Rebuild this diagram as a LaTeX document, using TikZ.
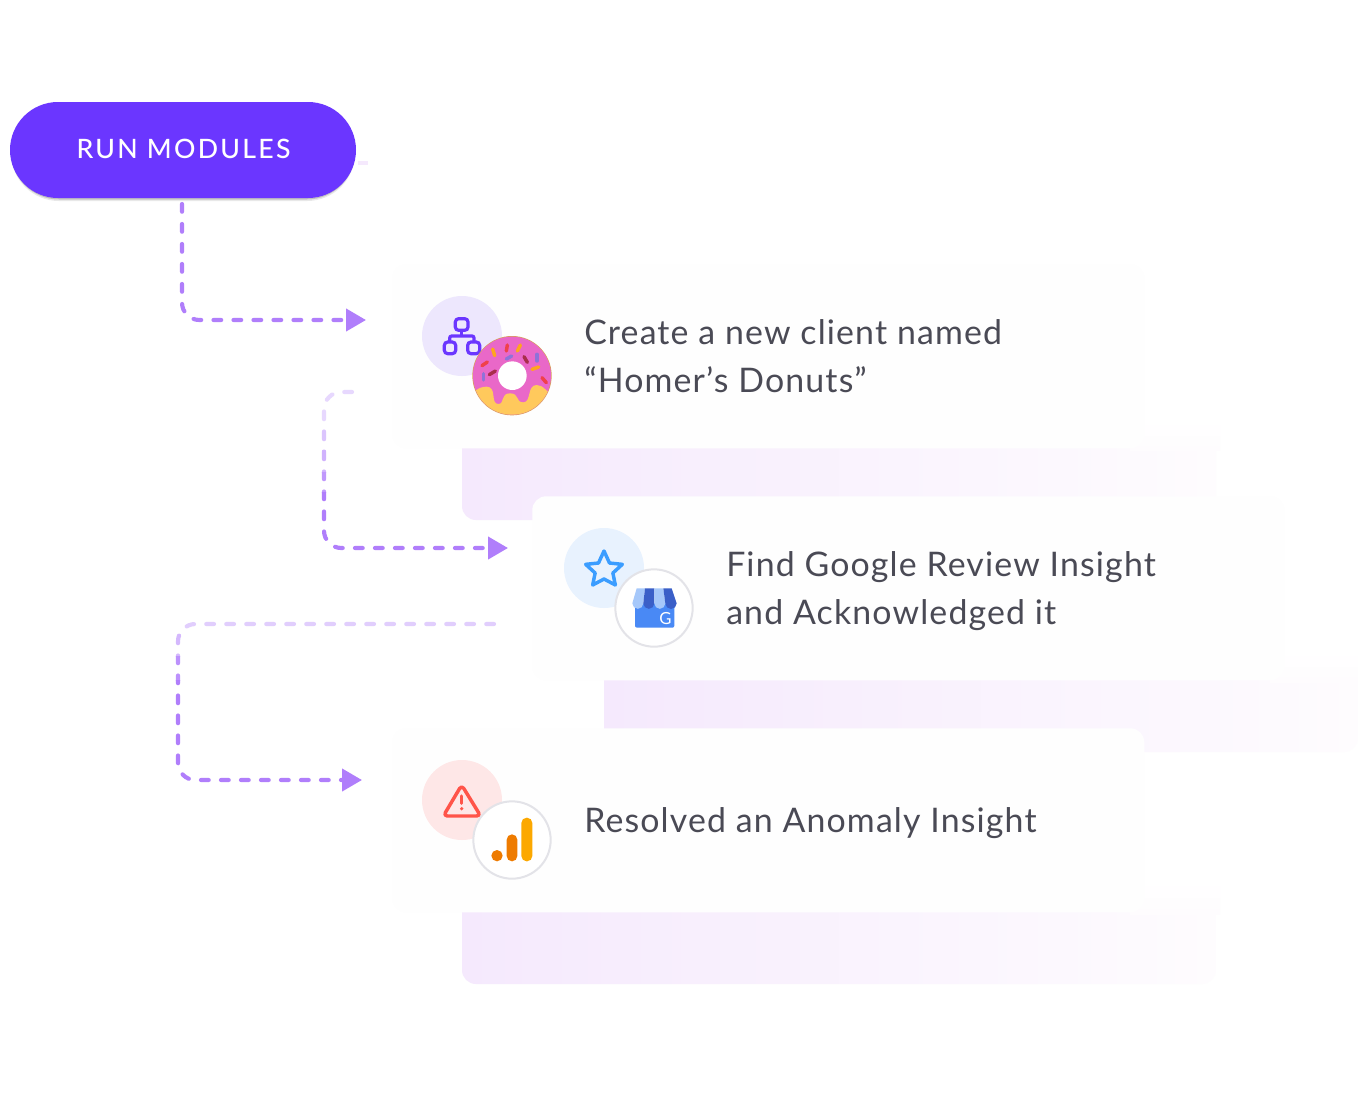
\documentclass[tikz,border=0pt]{standalone}
\usepackage{fontspec}
\setmainfont{Lato}
\newfontfamily\btnfont[LetterSpace=8.6]{Lato Medium}
\newfontfamily\cardfont[LetterSpace=3.4]{Lato}
\usetikzlibrary{arrows.meta}
\definecolor{btn}{HTML}{6B36FF}
\definecolor{flow}{HTML}{B07EFB}
\definecolor{ink}{HTML}{4A4A55}
\definecolor{panL}{HTML}{F5E9FD}
\definecolor{panM}{HTML}{F7EEFD}
\definecolor{panR}{HTML}{FEFCFE}
\definecolor{cardc}{HTML}{FEFEFE}
\definecolor{ringc}{HTML}{E3E3E8}
\definecolor{discA}{HTML}{EDE7FD}
\definecolor{discB}{HTML}{E8F2FE}
\definecolor{discC}{HTML}{FEE7E7}
\definecolor{donutP}{HTML}{E968C8}
\definecolor{donutY}{HTML}{FFC95C}
\definecolor{donutE}{HTML}{D8A05A}
\definecolor{sprO}{HTML}{FFA51F}
\definecolor{sprR}{HTML}{F0414A}
\definecolor{sprD}{HTML}{A82E4C}
\definecolor{sprV}{HTML}{8F72D8}
\definecolor{starc}{HTML}{3B9DFF}
\definecolor{storeB}{HTML}{4989F5}
\definecolor{storeL}{HTML}{A6C8FA}
\definecolor{storeD}{HTML}{3A5FC8}
\definecolor{alertc}{HTML}{FF5449}
\definecolor{gaD}{HTML}{EE7B00}
\definecolor{gaL}{HTML}{FCA800}
\tikzset{
  x=0.75pt,y=-0.75pt,
  panel/.style={left color=panL,middle color=panM,right color=panR,rounded corners=10.5pt},
  panelfade/.style={top color=white,bottom color=panR},
  cardbox/.style={rectangle,fill=cardc,rounded corners=10.5pt,minimum width=564pt,minimum height=138pt,inner sep=0pt,anchor=north west},
  cardtext/.style={anchor=base west,inner sep=0pt,text=ink,font=\cardfont\fontsize{25.4pt}{30pt}\selectfont},
  btnbox/.style={rectangle,fill=btn,rounded corners=36pt,minimum width=259.5pt,minimum height=72pt,inner sep=0pt},
  flowline/.style={line width=3.1pt,line cap=round,dash pattern=on 5.8pt off 9.2pt,rounded corners=13pt,-{Triangle[length=15pt,width=16.5pt]}},
  zoomed/.style={x=0.25pt,y=-0.25pt},
  disc/.style={circle,minimum size=60pt,inner sep=0pt},
  ringdisc/.style={circle,fill=white,draw=ringc,line width=1.5pt,minimum size=58pt,inner sep=0pt},
  sprinkle/.style={line width=2.6pt,line cap=round},
}
\begin{document}
\begin{tikzpicture}
\useasboundingbox (0,0) rectangle (1358,1096);
\fill[white] (0,0) rectangle (1358,1096);

% lavender panels behind the cards
\path[panel] (462,425) rectangle (1216,520);
\path[panel] (604,655) rectangle (1358,752);
\path[panel] (462,885) rectangle (1216,984);
% the parts beside the cards fade out upward
\path[panelfade] (1130,420) rectangle (1220,450);
\path[panelfade] (1270,650) rectangle (1358,682);
\path[panelfade] (1130,880) rectangle (1220,914);

% cards
\node[cardbox] (card1) at (392,264) {};
\node[cardbox] (card2) at (532,496) {};
\node[cardbox] (card3) at (392,728) {};

% button
\fill[black!35,rounded corners=36pt,opacity=.25] (11,106) rectangle (355,201);
\fill[black!35,rounded corners=36pt,opacity=.6] (11,104.5) rectangle (355,199.5);
\node[btnbox] (run) at (183,150) {};
\node[inner sep=0pt,text=white,font=\btnfont\fontsize{20pt}{24pt}\selectfont] (runlabel) at (183.5,149) {RUN MODULES};
\coordinate (faintA) at (358,163);
\coordinate (faintB) at (368,163);
\draw[panL,line width=2.5pt] (faintA) -- (faintB);

% connectors
\coordinate (s1) at (182,204);
\coordinate (e1) at (366,320);
\coordinate (s2) at (352,392);
\coordinate (e2) at (508,548);
\coordinate (s3) at (494,624);
\coordinate (e3) at (362,780);
\draw[flowline,draw=flow] (s1) |- (e1);
\foreach \ya/\yb/\p in {380/428/30,428/450/45,450/472/60,472/492/80,492/570/100}{
  \begin{scope}
    \clip (300,\ya) rectangle (530,\yb);
    \draw[flowline,draw=flow!\p] (s2) -| (324,548) -- (e2);
  \end{scope}}
\foreach \ya/\yb/\p in {610/634/38,634/656/55,656/680/85,680/800/100}{
  \begin{scope}
    \clip (160,\ya) rectangle (510,\yb);
    \draw[flowline,draw=flow!\p] (s3) -| (178,780) -- (e3);
  \end{scope}}

% card texts
\node[cardtext] (t1a) at (584,344) {Create a new client named};
\node[cardtext] (t1b) at (584,392) {“Homer’s Donuts”};
\node[cardtext] (t2a) at (726,576) {Find Google Review Insight};
\node[cardtext] (t2b) at (726,624) {and Acknowledged it};
\node[cardtext] (t3a) at (584,832) {Resolved an Anomaly Insight};

% icon discs
\node[disc,fill=discA] (d1) at (462,336) {};
\node[disc,fill=discB] (d2) at (604,568) {};
\node[disc,fill=discC] (d3) at (462,800) {};
\node[ringdisc] (r2) at (654,608) {};
\node[ringdisc] (r3) at (512,840) {};

% org-chart icon
\begin{scope}[shift={(410,285)},zoomed,draw=btn,line width=2.4pt,rounded corners=2.5pt]
  \draw (136,101) rectangle (174,136);
  \draw (103,171) rectangle (137,206);
  \draw (173,171) rectangle (209,206);
  \draw[rounded corners=1.5pt] (119,171) -- (119,153) -- (192,153) -- (192,171);
  \draw (155,136) -- (155,153);
\end{scope}

% donut
\begin{scope}[shift={(410,285)},zoomed]
  \fill[donutE] (306,272) circle[radius=119];
  \fill[donutP] (306,272) circle[radius=117];
  \begin{scope}
    \clip (306,272) circle[radius=117];
    \fill[donutY] (170,345) .. controls (190,320) and (205,305) .. (230,305)
      .. controls (262,305) and (240,357) .. (265,357)
      .. controls (285,357) and (270,325) .. (300,325)
      .. controls (330,325) and (315,352) .. (340,352)
      .. controls (365,352) and (350,300) .. (380,300)
      .. controls (400,300) and (410,320) .. (440,345)
      -- (440,400) -- (170,400) -- cycle;
  \end{scope}
  \fill[white] (307,272) circle[radius=43];
  \draw[sprinkle,sprO] (248,192) -- (254,212);
  \draw[sprinkle,sprR] (292,180) -- (289,198);
  \draw[sprinkle,sprO] (331,180) -- (322,198);
  \draw[sprinkle,sprV] (289,222) -- (305,213);
  \draw[sprinkle,sprD] (342,215) -- (352,232);
  \draw[sprinkle,sprV] (381,208) -- (381,228);
  \draw[sprinkle,sprR] (216,242) -- (232,231);
  \draw[sprinkle,sprD] (238,269) -- (256,258);
  \draw[sprinkle,sprV] (221,266) -- (221,285);
  \draw[sprinkle,sprO] (366,253) -- (386,246);
  \draw[sprinkle,sprR] (396,278) -- (409,293);
\end{scope}

% star
\begin{scope}[shift={(555,520)},zoomed]
  \draw[starc,line width=2.6pt,line join=round]
    (147,93) -- (163.5,129) -- (202,133) -- (173.6,159) -- (181,195) -- (147,177)
    -- (113,195) -- (120.4,159) -- (92,133) -- (130.5,129) -- cycle;
  % storefront
  \fill[storeB,rounded corners=1.5pt] (240,250) rectangle (358,323);
  \fill[storeL] (245,205) -- (270,205) -- (265,250) arc[start angle=0,end angle=180,radius=16.5] -- cycle;
  \fill[storeD] (270,205) -- (298,205) -- (298,250) arc[start angle=0,end angle=180,radius=16.5] -- cycle;
  \fill[storeL] (298,205) -- (325,205) -- (331,250) arc[start angle=0,end angle=180,radius=16.5] -- cycle;
  \fill[storeD] (325,205) -- (350,205) -- (365,250) arc[start angle=0,end angle=180,radius=17] -- cycle;
  \node[inner sep=0pt,text=white,font=\fontsize{12.5pt}{13pt}\selectfont] (storeG) at (331,297) {G};
\end{scope}

% alert triangle and bars
\begin{scope}[shift={(410,750)},zoomed]
  \draw[alertc,line width=2.6pt,rounded corners=3pt,line join=round] (155,105) -- (212,198) -- (100,198) -- cycle;
  \draw[alertc,line width=2.4pt,line cap=round] (155,138) -- (155,160);
  \fill[alertc] (155,176) circle[radius=5.5];
  \fill[gaD] (261,317) circle[radius=17];
  \fill[gaD,rounded corners=4pt] (290,253) rectangle (322,334);
  \fill[gaL,rounded corners=4pt] (334,203) rectangle (367,334);
\end{scope}
\end{tikzpicture}
\end{document}
